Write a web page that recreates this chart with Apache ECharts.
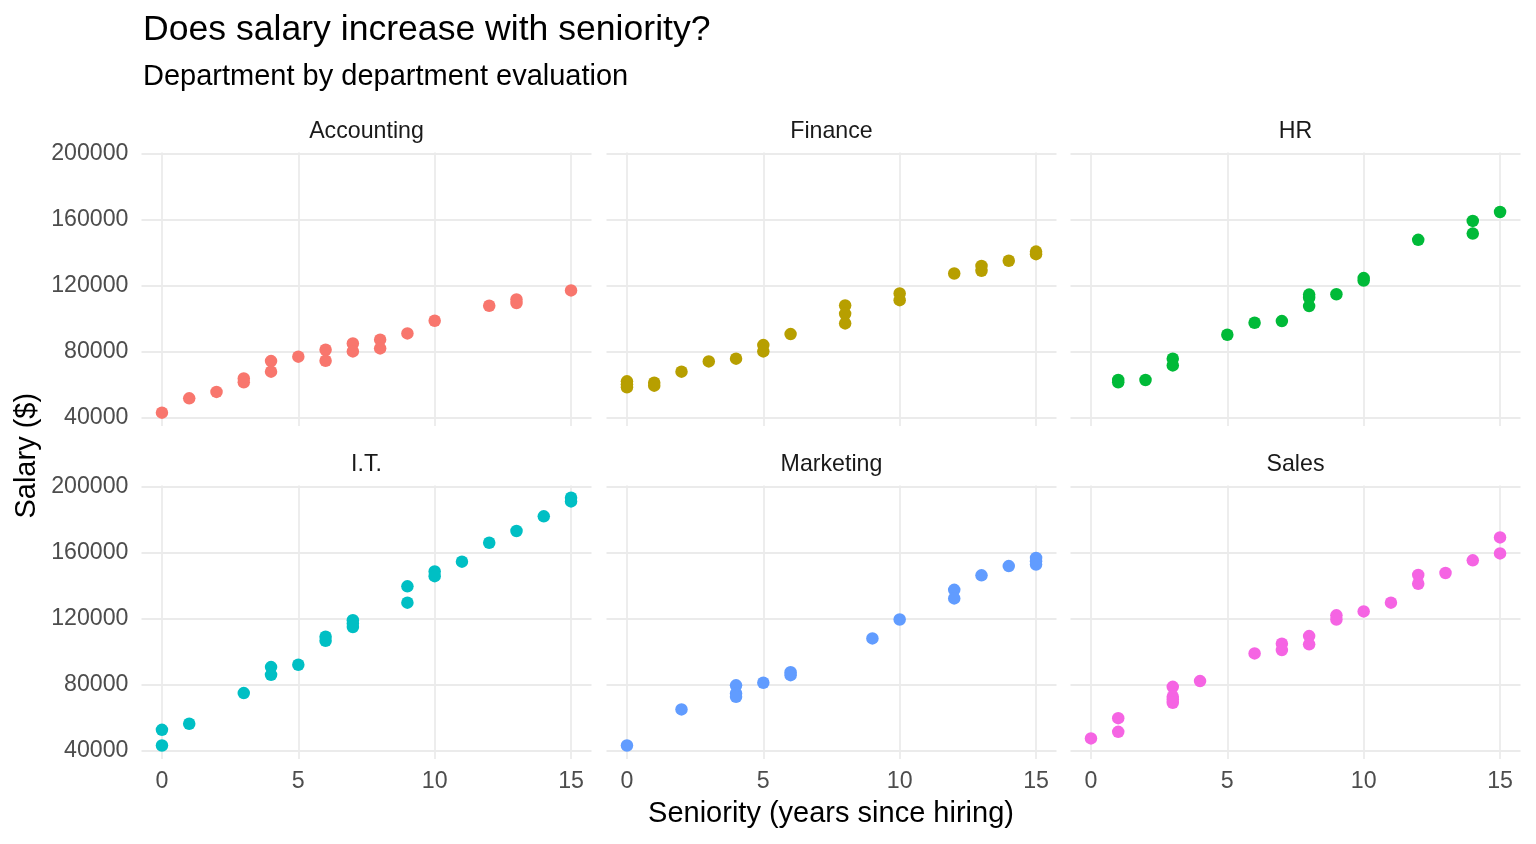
<!DOCTYPE html>
<html>
<head>
<meta charset="utf-8">
<script src="https://cdn.jsdelivr.net/npm/echarts@6/dist/echarts.min.js"></script>
<style>
html,body{margin:0;padding:0;background:#fff;}
#chart{width:1536px;height:844px;}
</style>
</head>
<body>
<div id="chart"></div>
<script>
// ---- data ----
const departments = ['Accounting', 'Finance', 'HR', 'I.T.', 'Marketing', 'Sales'];
const colors = ['#F8766D', '#B79F00', '#00BA38', '#00BFC4', '#619CFF', '#F564E3'];

const accountingX = [0,1,2,3,3,4,4,5,6,6,7,7,8,8,9,10,12,13,13,15];
const accountingY = [42800,51500,55400,63600,61200,74100,67700,76800,81000,74300,84800,80000,87100,81800,90900,98600,107700,111500,109300,117000];

const financeX = [0,0,0,1,1,2,3,4,5,5,6,8,8,8,10,10,12,13,13,14,15,15];
const financeY = [61800,60000,58200,61000,59200,67700,73900,75600,83800,80000,90500,107900,102800,97000,115200,111100,127300,131900,128900,135000,140600,139000];

const hrX = [1,1,2,3,3,5,6,7,8,8,8,9,10,10,12,14,14,15];
const hrY = [62600,61200,62600,75600,71500,90100,97400,98400,114500,112500,107500,114700,124500,123000,147700,159200,151500,164600];

const itX = [0,0,1,3,4,4,5,6,6,7,7,7,9,9,10,10,11,12,13,14,15,15];
const itY = [52400,42900,56100,74700,90500,85800,91900,108900,106500,119000,117000,114800,139500,129600,148600,145700,154500,166000,173100,182000,193300,191100];

const marketingX = [0,2,4,4,4,5,6,6,9,10,12,12,13,14,15,15,15];
const marketingY = [42900,64800,79400,74500,72500,81000,87400,85600,107900,119400,137400,132200,146200,151800,156700,154800,152800];

const salesX = [0,1,1,3,3,3,3,4,6,7,7,8,8,9,9,10,11,12,12,13,14,15,15];
const salesY = [47200,59500,51200,78500,72500,70800,68800,82000,98800,104700,100800,109300,104300,121900,119400,124300,129600,146400,141100,147600,155300,169200,159500];

const xTicks = [0, 5, 10, 15];
const yTicks = [40000, 80000, 120000, 160000, 200000];

const titleText = 'Does salary increase with seniority?';
const subtitleText = 'Department by department evaluation';
const xTitle = 'Seniority (years since hiring)';
const yTitle = 'Salary ($)';

// ---- layout ----
const FONT = 'Liberation Sans, Arial, Helvetica, sans-serif';
const colLeft = [141.5, 606.5, 1070.5];
const panelW = 450;
const rowTop = [152.4, 485.4];
const panelH = 273.6;

const xs = [accountingX, financeX, hrX, itX, marketingX, salesX];
const ys = [accountingY, financeY, hrY, itY, marketingY, salesY];

const grids = [], xAxes = [], yAxes = [], series = [], graphics = [];
for (let i = 0; i < 6; i++) {
  const r = Math.floor(i / 3), c = i % 3;
  grids.push({left: colLeft[c], top: rowTop[r], width: panelW, height: panelH, containLabel: false});
  xAxes.push({
    type: 'value', gridIndex: i, min: -0.75, max: 15.75,
    axisLine: {show: false},
    axisTick: {show: false, customValues: xTicks},
    splitLine: {show: true, lineStyle: {color: '#ebebeb', width: 1.8}},
    axisLabel: {show: r === 1, customValues: xTicks, margin: 11, fontSize: 23.2, color: '#4d4d4d', fontFamily: FONT}
  });
  yAxes.push({
    type: 'value', gridIndex: i, min: 34700, max: 200800,
    axisLine: {show: false},
    axisTick: {show: false, customValues: yTicks},
    splitLine: {show: true, lineStyle: {color: '#ebebeb', width: 1.8}},
    axisLabel: {show: c === 0, customValues: yTicks, margin: 13, fontSize: 23.2, color: '#4d4d4d', fontFamily: FONT,
      padding: [4, 0, 0, 0], formatter: v => String(v)}
  });
  series.push({
    type: 'scatter', xAxisIndex: i, yAxisIndex: i,
    symbol: 'circle', symbolSize: 12.5,
    itemStyle: {color: colors[i], opacity: 1},
    data: xs[i].map((x, k) => [x, ys[i][k]]),
    silent: true
  });
  graphics.push({
    type: 'text', x: colLeft[c] + panelW / 2, y: rowTop[r] - 21,
    style: {text: departments[i], font: '23.2px ' + FONT, fill: '#1a1a1a',
      textAlign: 'center', textVerticalAlign: 'middle', align: 'center', verticalAlign: 'middle'}
  });
}

graphics.push({
  type: 'text', x: 143, y: 30,
  style: {text: titleText, font: '35.6px ' + FONT, fill: '#000',
    textAlign: 'left', textVerticalAlign: 'middle', align: 'left', verticalAlign: 'middle'}
});
graphics.push({
  type: 'text', x: 143, y: 77,
  style: {text: subtitleText, font: '29px ' + FONT, fill: '#000',
    textAlign: 'left', textVerticalAlign: 'middle', align: 'left', verticalAlign: 'middle'}
});
graphics.push({
  type: 'text', x: (colLeft[0] + colLeft[2] + panelW) / 2, y: 814,
  style: {text: xTitle, font: '29px ' + FONT, fill: '#000',
    textAlign: 'center', textVerticalAlign: 'middle', align: 'center', verticalAlign: 'middle'}
});
graphics.push({
  type: 'text', x: 27, y: (rowTop[0] + rowTop[1] + panelH) / 2, rotation: Math.PI / 2,
  style: {text: yTitle, font: '29px ' + FONT, fill: '#000',
    textAlign: 'center', textVerticalAlign: 'middle', align: 'center', verticalAlign: 'middle'}
});

const chart = echarts.init(document.getElementById('chart'), null, {renderer: 'canvas'});
chart.setOption({
  backgroundColor: '#ffffff',
  animation: false,
  grid: grids,
  xAxis: xAxes,
  yAxis: yAxes,
  series: series,
  graphic: graphics
});
</script>
</body>
</html>
